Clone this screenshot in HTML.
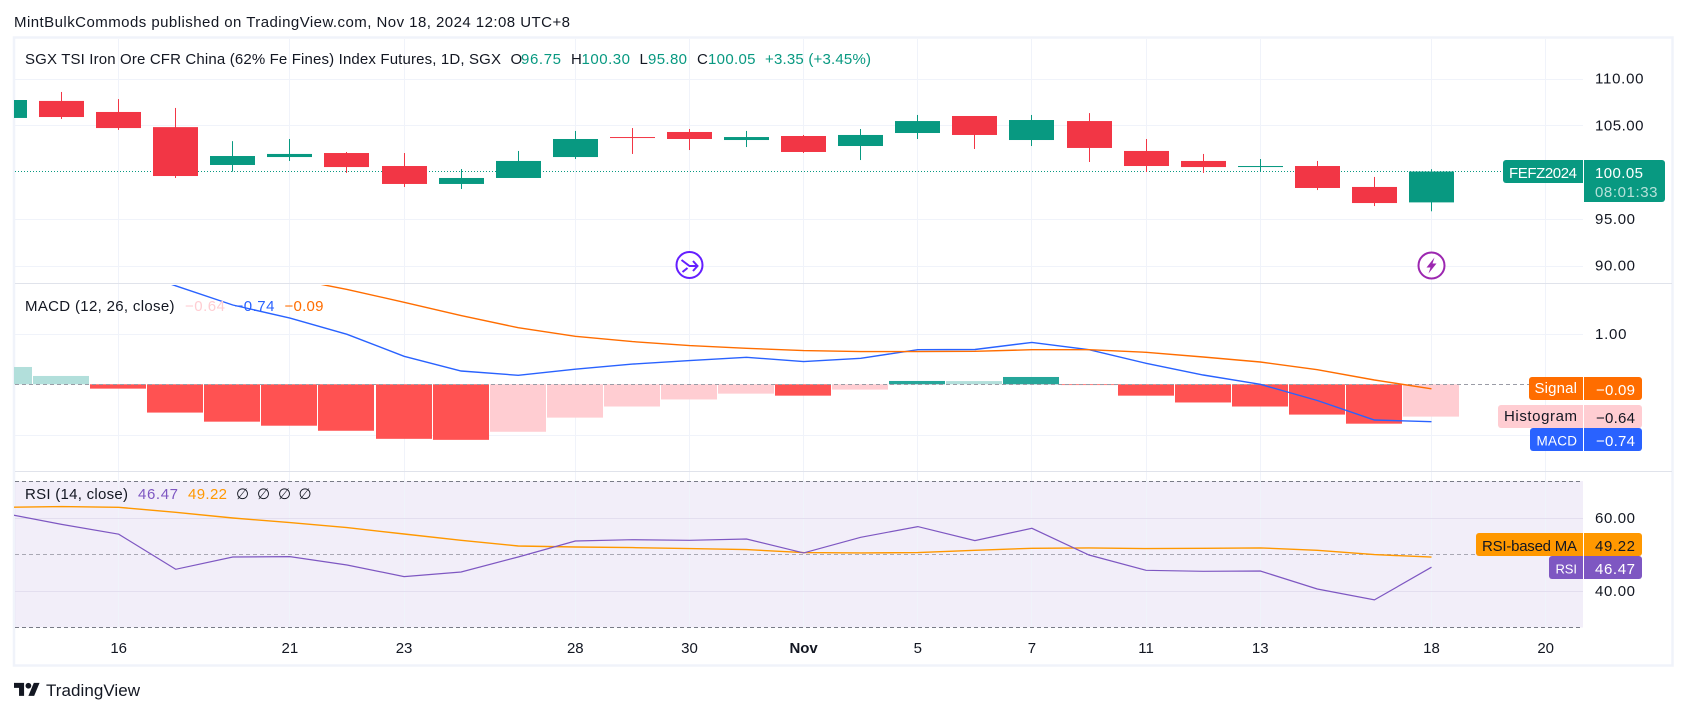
<!DOCTYPE html>
<html lang="en">
<head>
<meta charset="utf-8">
<title>SGX TSI Iron Ore Futures chart</title>
<style>
html,body{margin:0;padding:0;background:#fff;width:1686px;height:713px;overflow:hidden}
svg{display:block}
text{font-family:"Liberation Sans",sans-serif;font-size:15px;fill:#131722}
</style>
</head>
<body>
<svg id="chart" width="1686" height="713" viewBox="0 0 1686 713" xmlns="http://www.w3.org/2000/svg">
  <defs>
    <clipPath id="clip-price"><rect x="14" y="38" width="1569" height="245"/></clipPath>
    <clipPath id="clip-macd"><rect x="14" y="285" width="1569" height="186"/></clipPath>
    <clipPath id="clip-rsi"><rect x="14" y="473" width="1569" height="156"/></clipPath>
  </defs>
  <rect x="14" y="37.5" width="1658.5" height="628" fill="#fff" stroke="#f0f3fa" stroke-width="2.5"/>
  <rect x="15" y="481" width="1568" height="146.5" fill="#7e57c2" fill-opacity="0.1"/>
  <g id="grid"></g>
  <line x1="15" x2="1672" y1="283.5" y2="283.5" stroke="#e0e3eb" stroke-width="1"/>
  <line x1="15" x2="1672" y1="471.5" y2="471.5" stroke="#e0e3eb" stroke-width="1"/>
  <g id="price-pane" clip-path="url(#clip-price)"></g>
  <g id="macd-pane" clip-path="url(#clip-macd)"></g>
  <g id="rsi-pane" clip-path="url(#clip-rsi)"></g>
  <g id="axis-labels"></g>

  <text x="14" y="27" textLength="556">MintBulkCommods published on TradingView.com, Nov 18, 2024 12:08 UTC+8</text>

  <g>
    <text x="25" y="64" textLength="476">SGX TSI Iron Ore CFR China (62% Fe Fines) Index Futures, 1D, SGX</text>
    <text x="510.5" y="64">O</text>
    <text x="521" y="64" textLength="40" style="fill:#089981">96.75</text>
    <text x="571" y="64">H</text>
    <text x="581.5" y="64" textLength="48.5" style="fill:#089981">100.30</text>
    <text x="639.5" y="64">L</text>
    <text x="648" y="64" textLength="39" style="fill:#089981">95.80</text>
    <text x="697" y="64">C</text>
    <text x="708" y="64" textLength="47.5" style="fill:#089981">100.05</text>
    <text x="765" y="64" textLength="106" style="fill:#089981">+3.35 (+3.45%)</text>
  </g>

  <g>
    <text x="25" y="311" textLength="149.5">MACD (12, 26, close)</text>
    <text x="185" y="311" textLength="40" style="fill:#ffcdd2">−0.64</text>
    <text x="234.5" y="311" textLength="40" style="fill:#2962ff">−0.74</text>
    <text x="284.5" y="311" textLength="39" style="fill:#ff6d00">−0.09</text>
  </g>

  <g>
    <text x="25" y="499" textLength="103">RSI (14, close)</text>
    <text x="138" y="499" textLength="40" style="fill:#7e57c2">46.47</text>
    <text x="188" y="499" textLength="39" style="fill:#ff9800">49.22</text>
    <text x="236" y="499">∅</text>
    <text x="257" y="499">∅</text>
    <text x="278" y="499">∅</text>
    <text x="298.5" y="499">∅</text>
  </g>

  <g>
    <path d="M1506 160H1583V183H1506a3 3 0 0 1-3-3V163a3 3 0 0 1 3-3z" fill="#089981"/>
    <text x="1509" y="178" textLength="68" style="fill:#fff">FEFZ2024</text>
    <path d="M1584 160H1662a3 3 0 0 1 3 3V199a3 3 0 0 1-3 3H1584z" fill="#089981"/>
    <text x="1595" y="178" textLength="48" style="fill:#fff">100.05</text>
    <text x="1595" y="197" textLength="62.5" style="fill:#fff;fill-opacity:.7">08:01:33</text>
  </g>

  <g>
    <path d="M1532 377H1583V400H1532a3 3 0 0 1-3-3V380a3 3 0 0 1 3-3z" fill="#ff6d00"/>
    <text x="1534.5" y="393" textLength="42.5" style="fill:#fff">Signal</text>
    <path d="M1584 377H1639a3 3 0 0 1 3 3V397a3 3 0 0 1-3 3H1584z" fill="#ff6d00"/>
    <text x="1596" y="395" textLength="39" style="fill:#fff">−0.09</text>
  </g>
  <g>
    <path d="M1501 405H1583V428H1501a3 3 0 0 1-3-3V408a3 3 0 0 1 3-3z" fill="#ffcdd2"/>
    <text x="1504" y="421" textLength="73">Histogram</text>
    <path d="M1584 405H1639a3 3 0 0 1 3 3V425a3 3 0 0 1-3 3H1584z" fill="#ffcdd2"/>
    <text x="1596" y="423" textLength="39">−0.64</text>
  </g>
  <g>
    <path d="M1533 428H1583V451H1533a3 3 0 0 1-3-3V431a3 3 0 0 1 3-3z" fill="#2962ff"/>
    <text x="1536.5" y="445.5" textLength="40.5" style="fill:#fff;font-size:13.5px">MACD</text>
    <path d="M1584 428H1639a3 3 0 0 1 3 3V448a3 3 0 0 1-3 3H1584z" fill="#2962ff"/>
    <text x="1596" y="446" textLength="39" style="fill:#fff">−0.74</text>
  </g>
  <g>
    <path d="M1479 533H1583V556H1479a3 3 0 0 1-3-3V536a3 3 0 0 1 3-3z" fill="#ff9800"/>
    <text x="1482" y="551" textLength="95">RSI-based MA</text>
    <path d="M1584 533H1639a3 3 0 0 1 3 3V553a3 3 0 0 1-3 3H1584z" fill="#ff9800"/>
    <text x="1595" y="551" textLength="40">49.22</text>
  </g>
  <g>
    <path d="M1552 556H1583V579H1552a3 3 0 0 1-3-3V559a3 3 0 0 1 3-3z" fill="#7e57c2"/>
    <text x="1555.5" y="573.5" textLength="21.5" style="fill:#fff;font-size:13px">RSI</text>
    <path d="M1584 556H1639a3 3 0 0 1 3 3V576a3 3 0 0 1-3 3H1584z" fill="#7e57c2"/>
    <text x="1595" y="574" textLength="40" style="fill:#fff">46.47</text>
  </g>

  <g transform="translate(689.5 265)">
    <circle cx="0" cy="0" r="13" fill="#fff" stroke="#651fff" stroke-width="2"/>
    <path d="M-8 -5L0 1H8M3.5 -4L8 1L3.5 6M-7 7L-2 3" fill="none" stroke="#651fff" stroke-width="2"/>
  </g>
  <g transform="translate(1431.5 265.5)">
    <circle cx="0" cy="0" r="13" fill="#fff" stroke="#9c27b0" stroke-width="2"/>
    <path d="M3 -8L-5 2H-1L-3 8L5 -2H1Z" fill="#9c27b0"/>
  </g>

  <g>
    <g transform="translate(14 680) scale(.72)" fill="#131722">
      <path d="M14 22H7V11H0V4h14v18zM28 22h-8l7.5-18h8L28 22z"/>
      <circle cx="20" cy="8" r="4"/>
    </g>
    <text x="46" y="696" textLength="94" style="font-size:17px">TradingView</text>
  </g>
</svg>

<script>
// Session labels, one per bar
const categories = ['14','15','16','17','18','21','22','23','24','25','28','29','30','31','Nov','4','5','6','7','8','11','12','13','14','15','18'];
// Candles
const opens  = [105.78,107.60,106.42,104.80,100.75,101.60,102.03,100.64,98.72,99.36,101.60,103.74,104.28,103.42,103.85,102.78,104.17,105.99,103.42,105.45,102.25,101.18,100.53,100.64,98.40,96.75];
const highs  = [107.70,108.56,107.80,106.85,103.30,103.53,102.14,102.03,100.32,102.25,104.39,104.70,104.60,104.39,103.96,104.60,106.10,105.99,106.10,106.30,103.53,101.93,101.39,101.18,99.47,100.30];
const lows   = [105.78,105.67,104.50,99.36,100.04,101.18,99.90,98.40,98.18,99.36,101.39,101.93,102.35,102.67,102.03,101.28,103.53,102.46,102.78,101.07,100.00,99.90,100.00,98.07,96.36,95.80];
const closes = [107.70,105.88,104.70,99.57,101.71,101.93,100.53,98.72,99.36,101.18,103.53,103.64,103.53,103.74,102.14,103.96,105.45,103.96,105.56,102.57,100.64,100.53,100.64,98.29,96.68,100.05];
// MACD
const macdHistogram = [0.343,0.165,-0.086,-0.56,-0.74,-0.82,-0.92,-1.08,-1.10,-0.94,-0.66,-0.44,-0.30,-0.185,-0.225,-0.105,0.066,0.064,0.145,-0.015,-0.225,-0.36,-0.44,-0.60,-0.78,-0.64];
const macdLine = [null,null,2.33,1.95,1.57,1.31,0.99,0.555,0.264,0.178,0.30,0.40,0.47,0.535,0.45,0.515,0.686,0.69,0.83,0.686,0.416,0.185,0,-0.32,-0.706,-0.74];
const macdSignal = [null,null,null,null,null,2.10,1.88,1.624,1.36,1.12,0.95,0.845,0.766,0.713,0.667,0.647,0.647,0.653,0.686,0.686,0.634,0.541,0.442,0.29,0.086,-0.09];
// RSI
const rsiLine = [61.2,58.2,55.5,45.9,49.27,49.36,47.08,43.88,45.16,49.27,53.65,54.0,53.84,54.2,50.37,54.66,57.58,53.74,57.12,49.82,45.62,45.34,45.43,40.5,37.5,46.47];
const rsiMa = [62.88,63.06,62.88,61.5,59.95,58.68,57.31,55.57,53.84,52.28,52.0,51.83,51.55,51.28,50.46,50.37,50.46,51.1,51.64,51.74,51.55,51.64,51.74,51.1,49.91,49.22];
// Axis ticks
const timeTickBars = [2,5,7,10,12,14,16,18,20,22,25,27];
const timeTickLabels = ['16','21','23','28','30','Nov','5','7','11','13','18','20'];
const priceTicks = [110,105,95,90];
const macdTicks = [1,-1];
const macdTickLabels = ['1.00',''];
const rsiTicks = [60,40];
const rsiBands = [70,30];

const NS = 'http://www.w3.org/2000/svg';
const xScale = i => 4.5 + 57.08 * i;
const yPrice = p => 172 - (p - 100) * 9.35;
const yMacd = v => 384.3 - v * 50.5;
const yRsi = v => 554.3 - (v - 50) * 3.65;

function make(parent, tag, props) {
  const el = document.createElementNS(NS, tag);
  for (const k in props) el.setAttribute(k, props[k]);
  parent.appendChild(el);
  return el;
}
function polyPoints(values, yFn) {
  const pts = [];
  values.forEach((v, i) => { if (v !== null) pts.push(xScale(i).toFixed(1) + ',' + yFn(v).toFixed(1)); });
  return pts.join(' ');
}
const grid = document.getElementById('grid');
const pricePane = document.getElementById('price-pane');
const macdPane = document.getElementById('macd-pane');
const rsiPane = document.getElementById('rsi-pane');
const axisLabels = document.getElementById('axis-labels');

// Vertical grid and time axis
timeTickBars.forEach((b, i) => {
  const x = Math.floor(xScale(b)) + 0.5;
  const line = make(grid, 'line', {x1: x, x2: x, y1: 39, y2: 627, stroke: '#f0f3fa', 'stroke-width': 1});
  
  
  const label = make(axisLabels, 'text', {x: xScale(b), y: 653, 'text-anchor': 'middle'});
  label.textContent = timeTickLabels[i];
  if (timeTickLabels[i] === 'Nov') label.setAttribute('font-weight', 'bold');
  
  
});

// Horizontal grid and value axes
function addHorizontal(value, yFn, text, color) {
  const y = Math.round(yFn(value)) + 0.5;
  const line = make(grid, 'line', {x1: 15, x2: 1583, y1: y, y2: y, stroke: color, 'stroke-width': 1});
  
  
  if (text) {
    const label = make(axisLabels, 'text', {x: 1595, y: yFn(value) + 5.2, textLength: text.length > 5 ? 48.5 : (text.length > 4 ? 40 : 31.5)});
    label.textContent = text;
    
    
  }
}
priceTicks.forEach(p => addHorizontal(p, yPrice, p.toFixed(2), '#f0f3fa'));
macdTicks.forEach((v, i) => addHorizontal(v, yMacd, macdTickLabels[i], '#f0f3fa'));
rsiTicks.forEach(v => addHorizontal(v, yRsi, v.toFixed(2), '#e3deef'));

// Candles
categories.forEach((c, i) => {
  const up = closes[i] >= opens[i];
  const color = up ? '#089981' : '#f23645';
  const cx = xScale(i);
  const top = yPrice(Math.max(opens[i], closes[i]));
  const bot = yPrice(Math.min(opens[i], closes[i]));
  const wick = make(pricePane, 'rect', {x: Math.floor(cx), y: yPrice(highs[i]), width: 1, height: yPrice(lows[i]) - yPrice(highs[i]), fill: color});
  
  
  const body = make(pricePane, 'rect', {x: Math.floor(cx) - 22, y: top, width: 45, height: Math.max(1, bot - top), fill: color});
  
  
});

// Last price line
const lastLine = make(pricePane, 'line', {x1: 15, x2: 1503, y1: yPrice(closes[closes.length - 1]), y2: yPrice(closes[closes.length - 1]), stroke: '#089981', 'stroke-width': 1, 'stroke-dasharray': '1 2'});


pricePane.insertBefore(lastLine, pricePane.firstChild);

// MACD histogram
macdHistogram.forEach((v, i) => {
  const prev = i > 0 ? macdHistogram[i - 1] : Infinity;
  const rising = v >= prev;
  const color = v >= 0 ? (rising ? '#26a69a' : '#b2dfdb') : (rising ? '#ffcdd2' : '#ff5252');
  const y0 = yMacd(0);
  const yv = yMacd(v);
  const bar = make(macdPane, 'rect', {x: Math.floor(xScale(i) - 28), y: Math.min(y0, yv), width: 56, height: Math.abs(y0 - yv), fill: color});
  
  
});
const macdZero = make(macdPane, 'line', {x1: 15, x2: 1529, y1: 384.5, y2: 384.5, stroke: '#9a9ca6', 'stroke-width': 1, 'stroke-dasharray': '4 3'});


const macdPoly = make(macdPane, 'polyline', {points: polyPoints(macdLine, yMacd), fill: 'none', stroke: '#2962ff', 'stroke-width': 1.4});


const signalPoly = make(macdPane, 'polyline', {points: polyPoints(macdSignal, yMacd), fill: 'none', stroke: '#ff6d00', 'stroke-width': 1.4});



// RSI
rsiBands.forEach(v => {
  const band = make(rsiPane, 'line', {x1: 15, x2: 1583, y1: Math.round(yRsi(v)) + 0.5, y2: Math.round(yRsi(v)) + 0.5, stroke: '#787b86', 'stroke-width': 1, 'stroke-dasharray': '4 3'});
  
  
});
const rsiMid = make(rsiPane, 'line', {x1: 15, x2: 1476, y1: Math.round(yRsi(50)) + 0.5, y2: Math.round(yRsi(50)) + 0.5, stroke: '#a9a8b4', 'stroke-width': 1, 'stroke-dasharray': '4 3'});


const maPoly = make(rsiPane, 'polyline', {points: polyPoints(rsiMa, yRsi), fill: 'none', stroke: '#ff9800', 'stroke-width': 1.4});


const rsiPoly = make(rsiPane, 'polyline', {points: polyPoints(rsiLine, yRsi), fill: 'none', stroke: '#7e57c2', 'stroke-width': 1.2});


</script>
</body>
</html>
